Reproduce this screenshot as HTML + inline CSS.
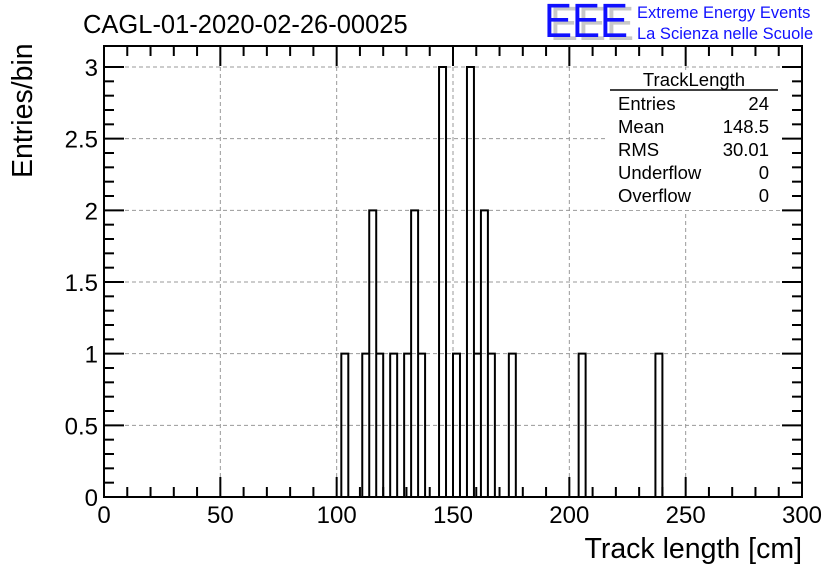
<!DOCTYPE html>
<html><head><meta charset="utf-8"><style>
body{margin:0;background:#fff}
svg{display:block;font-family:"Liberation Sans",sans-serif}
</style></head><body>
<svg id="c" width="836" height="572">
<g id="grid"></g>
<g id="hist"></g>
<g id="axes"></g>
<text x="83" y="33" font-size="25.5">CAGL-01-2020-02-26-00025</text>
<g>
<text x="550" y="40" font-size="48" fill="#c8c8c8" textLength="84" lengthAdjust="spacingAndGlyphs">EEE</text>
<text x="544" y="37" font-size="48" fill="#1010ff" textLength="84" lengthAdjust="spacingAndGlyphs">EEE</text>
<text x="637" y="18" font-size="16.5" fill="#1010ff">Extreme Energy Events</text>
<text x="637" y="39" font-size="16.5" fill="#1010ff">La Scienza nelle Scuole</text>
</g>
<g font-size="18.5">
<rect x="608" y="70" width="172" height="140" fill="#fff"/>
<text x="694" y="86" text-anchor="middle">TrackLength</text>
<line x1="610" y1="90" x2="778" y2="90" stroke="#000" stroke-width="1.5"/>
<text x="618" y="110">Entries</text><text x="769" y="110" text-anchor="end">24</text>
<text x="618" y="133">Mean</text><text x="769" y="133" text-anchor="end">148.5</text>
<text x="618" y="156">RMS</text><text x="769" y="156" text-anchor="end">30.01</text>
<text x="618" y="179">Underflow</text><text x="769" y="179" text-anchor="end">0</text>
<text x="618" y="202">Overflow</text><text x="769" y="202" text-anchor="end">0</text>
</g>
<text x="802" y="558" font-size="28.5" text-anchor="end">Track length [cm]</text>
<text transform="translate(32,178) rotate(-90)" font-size="28.5">Entries/bin</text>
</svg>
<script>
const binStart = [102,111,114,117,123,129,132,135,144,150,156,159,162,165,174,204,237];
const binCount = [1,1,2,1,1,1,2,1,3,1,3,1,2,1,1,1,1];
const binWidth = 3;
const xTicks = [0,50,100,150,200,250,300];
const yTicks = ["0","0.5","1","1.5","2","2.5","3"];
const NS="http://www.w3.org/2000/svg";
const L=104,R=802,T=46,B=497;
const X=v=>L+(v-0)/(300-0)*(R-L);
const Y=v=>B-v/3*(B-67);
function mk(tag,at,parent){const e=document.createElementNS(NS,tag);for(const k in at)e.setAttribute(k,at[k]);parent.appendChild(e);return e;}
const grid=document.getElementById('grid'),axes=document.getElementById('axes'),hist=document.getElementById('hist');
xTicks.forEach(v=>{if(v>0&&v<300){const g=mk('line',{x1:X(v),x2:X(v),y1:T,y2:B,stroke:'#999','stroke-dasharray':'4,3','stroke-width':1},grid);

}});
yTicks.forEach(s=>{const v=+s;if(v>0){const g=mk('line',{x1:L,x2:R,y1:Y(v),y2:Y(v),stroke:'#999','stroke-dasharray':'4,3','stroke-width':1},grid);

}});
let pts=[[X(0),Y(0)]];
binStart.forEach((s,i)=>{const b=Y(binCount[i]);pts.push([X(s),Y(0)],[X(s),b],[X(s+binWidth),b],[X(s+binWidth),Y(0)]);});
pts.push([X(300),Y(0)]);
const p=mk('path',{d:'M'+pts.map(q=>q.join(',')).join('L'),fill:'none',stroke:'#000','stroke-width':2},hist);


const f=mk('rect',{x:L,y:T,width:R-L,height:B-T,fill:'none',stroke:'#000','stroke-width':2},axes);


for(let v=0;v<=300;v+=10){const maj=v%50===0;const len=maj?20:10;
mk('line',{x1:X(v),x2:X(v),y1:B,y2:B-len,stroke:'#000','stroke-width':2},axes);
mk('line',{x1:X(v),x2:X(v),y1:T,y2:T+len,stroke:'#000','stroke-width':2},axes);}
xTicks.forEach(v=>{const t=mk('text',{x:X(v),y:B+26,'font-size':24,'text-anchor':'middle'},axes);t.textContent=v;

});
for(let i=0;i<=30;i++){const v=i/10;const maj=i%5===0;const len=maj?20:10;
mk('line',{x1:L,x2:L+len,y1:Y(v),y2:Y(v),stroke:'#000','stroke-width':2},axes);
mk('line',{x1:R,x2:R-len,y1:Y(v),y2:Y(v),stroke:'#000','stroke-width':2},axes);}
yTicks.forEach(s=>{const t=mk('text',{x:L-6,y:Y(+s)+9,'font-size':24,'text-anchor':'end'},axes);t.textContent=s;

});
</script>
</body></html>
